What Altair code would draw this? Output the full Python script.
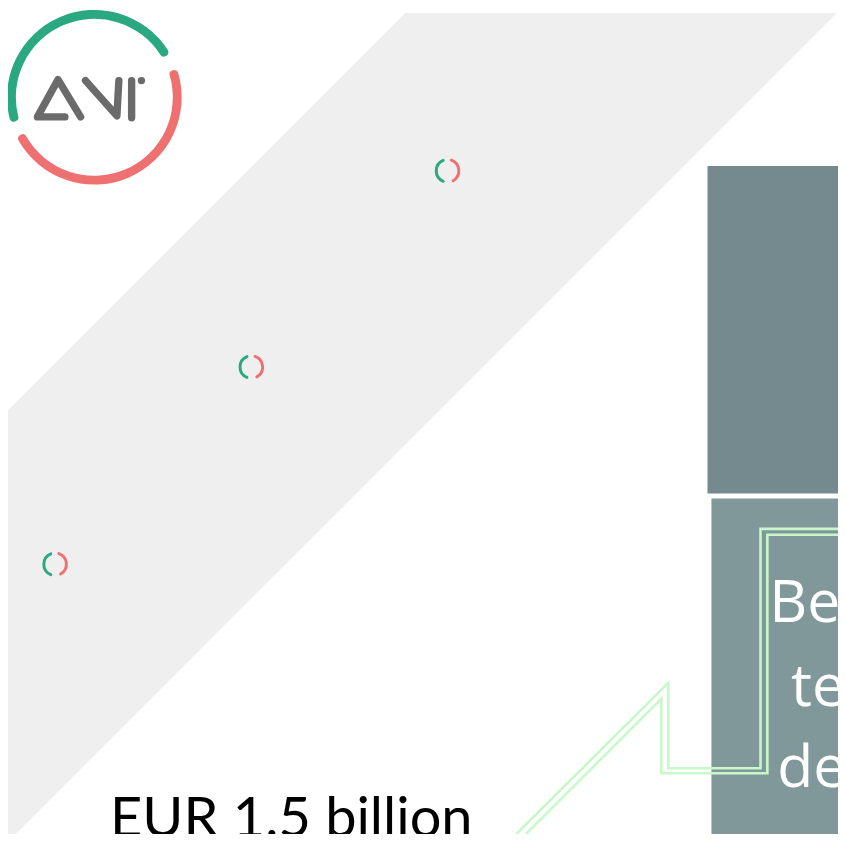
import math
import altair as alt
import pandas as pd

# ---------------- data (pixel coordinates of the slide, 846 x 842) ----------------
band_x = [0, 405, 845]
band_top = [410, 5, 5]
band_bot = [850, 445, 5]

logo_center = (88, 91)
logo_arc_color = ["green", "red"]
logo_arc_start_deg = [253, 71]
logo_arc_end_deg = [420, 243]

letter_stroke = ["A", "A", "A", "A", "N", "N", "N", "I", "I"]
letter_x = [58, 30, 51, 74, 79, 111, 113, 126, 126]
letter_y = [111, 111, 73, 111, 74, 110, 74, 74, 112]
dot_x = [136]
dot_y = [74]

spin_cx = [448, 248, 48]
spin_cy = [166, 366, 567]
spin_green = (195, 345)
spin_red = (12, 158)

rect_name = ["dark", "light"]
rect_x1 = [713, 717]
rect_x2 = [846, 846]
rect_y1 = [161, 500]
rect_y2 = [495, 842]
rect_color = ["#748a8e", "#81989b"]

line_id = ["a"] * 6 + ["b"] * 6
line_x = [518, 673, 673, 767, 767, 846, 528, 666, 666, 774, 774, 846]
line_y = [842, 688, 775, 775, 531, 531, 842, 704, 780, 780, 537, 537]

words = ["EUR 1.5 billion", "Be", "te", "de"]
word_x = [104, 776, 798, 784]
word_y = [845, 626, 712, 794]
word_size = [57, 60, 60, 60]
word_color = ["#000000", "#ffffff", "#ffffff", "#ffffff"]
word_font = ["Lato", "Open Sans", "Open Sans", "Open Sans"]

# ---------------- scales: slide pixels -> 830 x 826 plot ----------------
W, H = 830, 826
K = W / 846.0
XS = alt.Scale(domain=[0, 846], nice=False, zero=False)
YS = alt.Scale(domain=[0, 842], nice=False, zero=False, reverse=True)


def X(f):
    return alt.X(f, type="quantitative", scale=XS, axis=None)


def Y(f):
    return alt.Y(f, type="quantitative", scale=YS, axis=None)


band_df = pd.DataFrame({"x": band_x, "top": band_top, "bot": band_bot})
band = alt.Chart(band_df).mark_area(color="#efefef", clip=True, interpolate="linear").encode(
    x=X("x"), y=Y("top"), y2="bot"
)

logo_df = pd.DataFrame({
    "c": logo_arc_color,
    "t1": [math.radians(v) for v in logo_arc_start_deg],
    "t2": [math.radians(v) for v in logo_arc_end_deg],
    "x": [logo_center[0]] * 2,
    "y": [logo_center[1]] * 2,
})
logo_arcs = alt.Chart(logo_df).mark_arc(radius=89 * K, radius2=80 * K, cornerRadius=4, clip=True).encode(
    x=X("x"), y=Y("y"),
    theta=alt.Theta("t1:Q", scale=None), theta2="t2",
    color=alt.Color("c:N", scale=alt.Scale(domain=["green", "red"], range=["#14b088", "#f45a5a"]), legend=None),
)

letters_df = pd.DataFrame({"s": letter_stroke, "x": letter_x, "y": letter_y, "o": list(range(len(letter_x)))})
letters = alt.Chart(letters_df).mark_line(
    color="#6b6b6b", strokeWidth=7.5 * K, strokeCap="round", strokeJoin="round", clip=True
).encode(x=X("x"), y=Y("y"), detail="s:N", order="o:Q")

dot = alt.Chart(pd.DataFrame({"x": dot_x, "y": dot_y})).mark_circle(
    color="#6b6b6b", size=55, opacity=1
).encode(x=X("x"), y=Y("y"))

spin_rows = []
for cx, cy in zip(spin_cx, spin_cy):
    spin_rows.append({"x": cx, "y": cy, "c": "green", "t1": math.radians(spin_green[0]), "t2": math.radians(spin_green[1])})
    spin_rows.append({"x": cx, "y": cy, "c": "red", "t1": math.radians(spin_red[0]), "t2": math.radians(spin_red[1])})
spinners = alt.Chart(pd.DataFrame(spin_rows)).mark_arc(radius=13 * K, radius2=10 * K, cornerRadius=1.5, clip=True).encode(
    x=X("x"), y=Y("y"),
    theta=alt.Theta("t1:Q", scale=None), theta2="t2",
    color=alt.Color("c:N", scale=alt.Scale(domain=["green", "red"], range=["#2aa87f", "#ef7070"]), legend=None),
)

rect_df = pd.DataFrame({"n": rect_name, "x1": rect_x1, "x2": rect_x2, "y1": rect_y1, "y2": rect_y2, "col": rect_color})
rects = alt.Chart(rect_df).mark_rect(clip=True).encode(
    x=X("x1"), x2="x2", y=Y("y1"), y2="y2", color=alt.Color("col:N", scale=None)
)

lines_df = pd.DataFrame({"id": line_id, "x": line_x, "y": line_y, "o": list(range(len(line_x)))})
green_lines = alt.Chart(lines_df).mark_line(color="#c9f7c9", strokeWidth=2.6, clip=True).encode(
    x=X("x"), y=Y("y"), detail="id:N", order="o:Q"
)

text_layers = []
for w, x, y, s, c, f in zip(words, word_x, word_y, word_size, word_color, word_font):
    t = alt.Chart(pd.DataFrame({"w": [w], "x": [x], "y": [y]})).mark_text(
        align="left", baseline="alphabetic", fontSize=s * K, color=c, font=f, clip=True
    ).encode(x=X("x"), y=Y("y"), text="w:N")
    text_layers.append(t)

chart = alt.layer(band, spinners, logo_arcs, letters, dot, rects, green_lines, *text_layers).properties(
    width=W, height=H, padding=0, background="white"
).configure_view(stroke=None)

chart.save("out.html", embed_options={"renderer": "svg", "actions": False})
